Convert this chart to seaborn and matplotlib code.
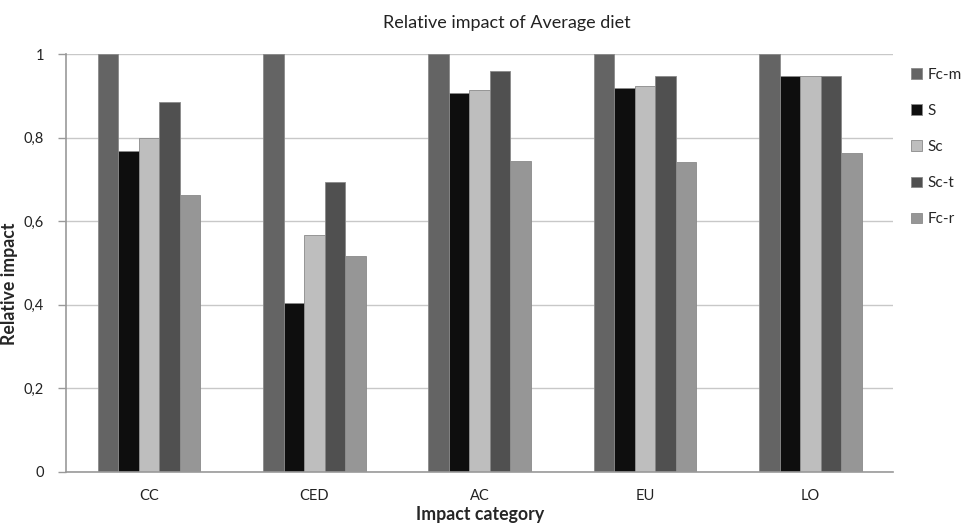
import pandas as pd
import numpy as np
import matplotlib.pyplot as plt
import seaborn as sns

categories = ["CC", "CED", "AC", "EU", "LO"]
scenarios = ["Fc-m", "S", "Sc", "Sc-t", "Fc-r"]

fc_m = [1.0, 1.0, 1.0, 1.0, 1.0]
s = [0.768, 0.405, 0.906, 0.918, 0.947]
sc = [0.800, 0.567, 0.914, 0.923, 0.947]
sc_t = [0.885, 0.693, 0.959, 0.947, 0.947]
fc_r = [0.662, 0.517, 0.743, 0.741, 0.763]

colors = ["#646464", "#0e0e0e", "#bebebe", "#505050", "#969696"]

df = pd.DataFrame({"Fc-m": fc_m, "S": s, "Sc": sc, "Sc-t": sc_t, "Fc-r": fc_r},
                  index=categories)
long_df = df.reset_index(names="category").melt(id_vars="category",
                                                 var_name="scenario",
                                                 value_name="impact")

sns.set_style("white")
plt.rcParams["font.family"] = ["Lato", "DejaVu Sans"]

fig = plt.figure(figsize=(9.65, 5.25), dpi=100)
ax = fig.add_axes([0.0687, 0.101, 0.8567, 0.796])

sns.barplot(data=long_df, x="category", y="impact", hue="scenario",
            hue_order=scenarios, order=categories, palette=colors,
            width=0.62, edgecolor="#8a8a8a", linewidth=0.6, ax=ax,
            legend=True)

ax.set_ylim(0, 1)
ax.set_xlim(-0.5, 4.5)
ticks = [0, 0.2, 0.4, 0.6, 0.8, 1]
ax.set_yticks(ticks)
ax.set_yticklabels(["0", "0,2", "0,4", "0,6", "0,8", "1"], fontsize=10.5, color="#222222")
ax.tick_params(axis="y", length=6, color="#999999", width=1, direction="out", pad=10, left=True)
ax.tick_params(axis="x", length=0, labelsize=10.5, pad=12, labelcolor="#222222")
ax.yaxis.grid(True, color="#c8c8c8", linewidth=1)
ax.set_axisbelow(True)

for side in ["top", "right"]:
    ax.spines[side].set_visible(False)
for side in ["left", "bottom"]:
    ax.spines[side].set_color("#999999")
    ax.spines[side].set_linewidth(1.2)

ax.set_xlabel("Impact category", fontsize=12.8, fontweight="bold")
ax.set_ylabel("Relative impact", fontsize=12.8, fontweight="bold")
ax.xaxis.set_label_coords(0.5, -0.082)
ax.yaxis.set_label_coords(-0.058, 0.45)

fig.text(0.525, 0.957, "Relative impact of Average diet", ha="center", va="center",
         fontsize=13, color="#222222")

leg = ax.legend(loc="upper left", bbox_to_anchor=(1.005, 1.0), frameon=False,
                fontsize=11, handlelength=0.7, handleheight=0.7,
                labelspacing=1.45, handletextpad=0.4)
for h in leg.legend_handles:
    h.set_edgecolor("#8a8a8a")

fig.savefig("out.png", dpi=100)
